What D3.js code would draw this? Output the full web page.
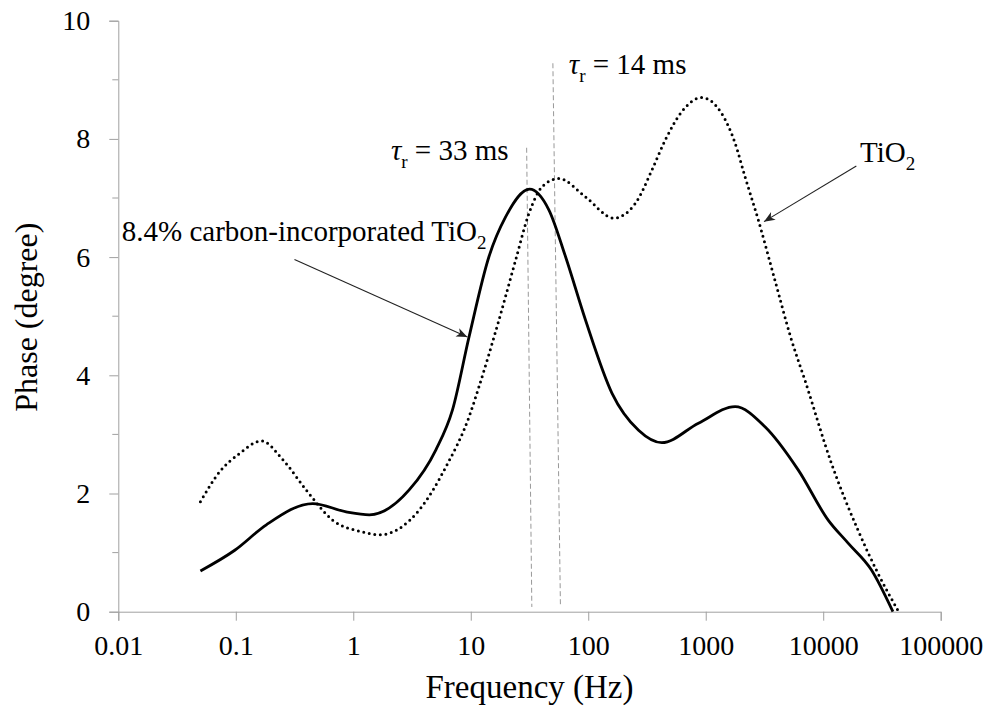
<!DOCTYPE html>
<html>
<head>
<meta charset="utf-8">
<script src="https://d3js.org/d3.v7.min.js"></script>
</head>
<body style="margin:0">
<script>
// canvas
const SvgWidth = 993
const SvgHeight = 713
const margin = {left: 118.3, right: 52.3, top: 20.7, bottom: 101.3}
const serifFont = "'Liberation Serif'"

// 8.4% carbon-incorporated TiO2 (solid)
const freqC  = [0.05, 0.098, 0.182, 0.452, 0.869, 1.37, 2.99, 5.05, 6.98, 9.67, 14.3, 19.8, 31.7, 46.2, 64.0, 94.6, 159, 268, 423, 867, 1778, 3194, 6123, 11020, 16290, 25660, 39200]
const phaseC = [0.69, 1.04, 1.47, 1.83, 1.69, 1.64, 2.06, 2.74, 3.41, 4.65, 6.01, 6.68, 7.15, 6.80, 6.01, 4.94, 3.70, 3.07, 2.86, 3.19, 3.47, 3.13, 2.40, 1.55, 1.16, 0.71, 0]

// TiO2 (dotted)
const freqT  = [0.05, 0.073, 0.108, 0.165, 0.252, 0.397, 0.668, 1.20, 1.67, 3.64, 6.14, 9.68, 11.76, 17.4, 24.1, 31.3, 40.5, 56.2, 94.6, 165, 252, 348, 452, 625, 925, 1367, 1778, 2160, 2800, 3880, 5370, 6980, 11750, 19770, 29240, 43850]
const phaseT = [1.86, 2.37, 2.68, 2.89, 2.57, 2.06, 1.55, 1.35, 1.30, 1.72, 2.45, 3.30, 3.81, 4.94, 5.95, 6.74, 7.19, 7.33, 7.02, 6.66, 6.91, 7.47, 7.98, 8.46, 8.70, 8.43, 7.93, 7.36, 6.63, 5.61, 4.60, 3.92, 2.51, 1.38, 0.65, 0]

// axis ticks
const xTicks = [0.01, 0.1, 1, 10, 100, 1000, 10000, 100000]
const xTickLabels = ["0.01", "0.1", "1", "10", "100", "1000", "10000", "100000"]
const yTicks = [0, 2, 4, 6, 8, 10]
const yMinor = [1, 3, 5, 7, 9]

// relaxation markers (freq, phase at top / bottom)
const tauFreqTop = [29.9, 50]
const tauFreqBot = [33.1, 58]
const tauPhaseTop = [7.85, 9.28]
const tauPhaseBot = [0.08, 0.08]
const tauLabels = ["33 ms", "14 ms"]
const tauLabelFreq = [2.09, 68.3]
const tauLabelPhase = [7.64, 9.10]

var x = d3.scaleLog().domain([0.01, 100000]).range([margin.left, SvgWidth - margin.right])
var y = d3.scaleLinear().domain([0, 10]).range([SvgHeight - margin.bottom, margin.top])

var svg = d3.select("body").append("svg")
    .attr("width", SvgWidth)
    .attr("height", SvgHeight)

svg.append("defs").append("marker")
    .attr("id", "arrow")
    .attr("viewBox", "-12 -6 14 12")
    .attr("refX", 0).attr("refY", 0)
    .attr("markerWidth", 14).attr("markerHeight", 12)
    .attr("markerUnits", "userSpaceOnUse")
    .attr("orient", "auto")
  .append("path")
    .attr("d", "M0,0 L-11,-4.5 L-8,0 L-11,4.5 Z")
    .attr("fill", "#222")

const axisColor = "#a0a0a0"

// x axis
var xAxis = svg.append("g")
    .attr("transform", "translate(0," + y(0) + ")")
    .call(d3.axisBottom(x).tickValues(xTicks).tickSize(9).tickPadding(14)
        .tickFormat(function(d, i){ return xTickLabels[i] }))
xAxis.attr("font-family", null).attr("font-size", null)
xAxis.select(".domain").attr("stroke", axisColor)
xAxis.selectAll(".tick line").attr("stroke", axisColor)
xAxis.selectAll(".tick text").style("font-family", serifFont).style("font-size", "28px").attr("fill", "#000")

// y axis
var yAxis = svg.append("g")
    .attr("transform", "translate(" + x(0.01) + ",0)")
    .call(d3.axisLeft(y).tickValues(yTicks).tickSize(9).tickPadding(19).tickFormat(d3.format("d")))
yAxis.attr("font-family", null).attr("font-size", null)
yAxis.select(".domain").attr("stroke", axisColor)
yAxis.selectAll(".tick line").attr("stroke", axisColor)
yAxis.selectAll(".tick text").style("font-family", serifFont).style("font-size", "28px").attr("fill", "#000")

svg.append("g").selectAll("line")
    .data(yMinor)
    .enter().append("line")
    .attr("x1", x(0.01) - 6).attr("x2", x(0.01))
    .attr("y1", function(d){ return y(d) }).attr("y2", function(d){ return y(d) })
    .attr("stroke", axisColor)

// axis titles
svg.append("text")
    .attr("x", (x.range()[0] + x.range()[1]) / 2)
    .attr("y", 698)
    .attr("text-anchor", "middle")
    .style("font-family", serifFont)
    .style("font-size", "33px")
    .text("Frequency (Hz)")

svg.append("text")
    .attr("transform", "translate(37," + (y(5) + 1) + ") rotate(-90)")
    .attr("text-anchor", "middle")
    .style("font-family", serifFont)
    .style("font-size", "32px")
    .text("Phase (degree)")

// dashed relaxation lines
svg.append("g").selectAll("line")
    .data(tauFreqTop)
    .enter().append("line")
    .attr("x1", function(d){ return x(d) })
    .attr("y1", function(d, i){ return y(tauPhaseTop[i]) })
    .attr("x2", function(d, i){ return x(tauFreqBot[i]) })
    .attr("y2", function(d, i){ return y(tauPhaseBot[i]) })
    .attr("stroke", "#999")
    .attr("stroke-width", 1)
    .attr("stroke-dasharray", "5 3")

// curves
var line = d3.line()
    .x(function(d){ return x(d[0]) })
    .y(function(d){ return y(d[1]) })
    .curve(d3.curveMonotoneX)

svg.append("path")
    .datum(d3.zip(freqT, phaseT))
    .attr("d", line)
    .attr("fill", "none")
    .attr("stroke", "#000")
    .attr("stroke-width", 3)
    .attr("stroke-linecap", "round")
    .attr("stroke-dasharray", "0 5.6")

svg.append("path")
    .datum(d3.zip(freqC, phaseC))
    .attr("d", line)
    .attr("fill", "none")
    .attr("stroke", "#000")
    .attr("stroke-width", 2.8)
    .attr("stroke-linejoin", "round")

// tau labels
tauLabels.forEach(function(lab, i){
    var t = svg.append("text")
        .attr("x", x(tauLabelFreq[i]))
        .attr("y", y(tauLabelPhase[i]))
        .style("font-family", serifFont)
        .style("font-size", "29px")
    t.append("tspan").style("font-style", "italic").text("τ")
    t.append("tspan").attr("dy", 8).style("font-size", "19px").text("r")
    t.append("tspan").attr("dy", -8).text(" = " + lab)
})

// series labels with arrows
function subLabel(str, fx, py){
    var t = svg.append("text")
        .attr("x", x(fx))
        .attr("y", y(py))
        .style("font-family", serifFont)
        .style("font-size", "29px")
    t.append("tspan").text(str)
    t.append("tspan").attr("dy", 8).style("font-size", "19px").text("2")
}
subLabel("8.4% carbon-incorporated TiO", 0.0107, 6.28)
subLabel("TiO", 20560, 7.61)

// arrow: [fromFreq, fromPhase] -> [toFreq, toPhase]
const arrowFrom = [[0.316, 5.96], [19140, 7.54]]
const arrowTo = [[9.36, 4.65], [3130, 6.60]]

svg.append("g").selectAll("line")
    .data(arrowFrom)
    .enter().append("line")
    .attr("x1", function(d){ return x(d[0]) })
    .attr("y1", function(d){ return y(d[1]) })
    .attr("x2", function(d, i){ return x(arrowTo[i][0]) })
    .attr("y2", function(d, i){ return y(arrowTo[i][1]) })
    .attr("stroke", "#222")
    .attr("stroke-width", 1.1)
    .attr("marker-end", "url(#arrow)")
</script>
</body>
</html>
